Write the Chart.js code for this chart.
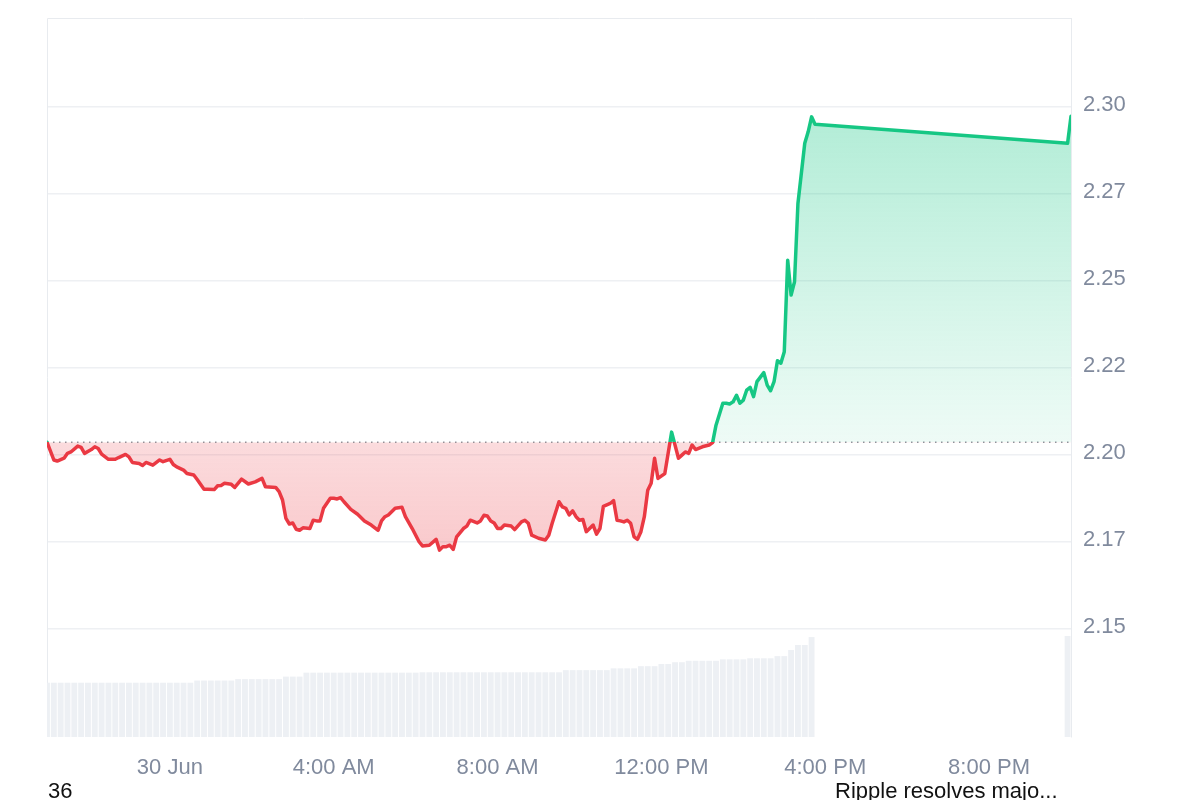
<!DOCTYPE html>
<html>
<head>
<meta charset="utf-8">
<title>XRP price chart</title>
<script src="https://cdn.jsdelivr.net/npm/chart.js@4.4.1/dist/chart.umd.min.js"></script>
<style>
    html, body {
        margin: 0;
        padding: 0;
        background: #ffffff;
        overflow: hidden;
    }
    #wrap {
        position: relative;
        width: 1200px;
        height: 800px;
    }
    #chart {
        position: absolute;
        left: 0;
        top: 0;
    }
    .below {
        position: absolute;
        top: 779px;
        font-family: "Liberation Sans", Arial, sans-serif;
        font-size: 22px;
        line-height: 24px;
        color: #111111;
        white-space: nowrap;
    }
</style>
</head>
<body>
<div id="wrap">
    <canvas id="chart" width="1200" height="800"></canvas>
    <div class="below" style="left: 48px;">36</div>
    <div class="below" style="left: 835px;">Ripple resolves majo...</div>
</div>
<script>
// price points, minutes from 30 Jun 00:00 (negative = evening of 29 Jun)
var priceMinutes = [
    -180, -170, -165, -155, -150, -145, -135, -130, -125, -115, -110, -105, -100, -90, -80, -75,
    -65, -60, -55, -45, -40, -35, -25, -15, -10, 0, 5, 10, 20, 25, 35, 40,
    50, 55, 65, 70, 75, 80, 90, 95, 105, 115, 125, 135, 140, 155, 160, 165,
    170, 175, 180, 185, 190, 195, 205, 210, 215, 220, 225, 235, 240, 245, 250, 255,
    265, 275, 285, 295, 305, 310, 315, 320, 330, 340, 345, 355, 365, 370, 380, 390,
    395, 400, 405, 410, 415, 420, 430, 435, 440, 450, 455, 460, 465, 470, 475, 480,
    485, 490, 500, 505, 515, 520, 525, 530, 540, 550, 555, 560, 570, 575, 580, 585,
    590, 595, 600, 605, 610, 620, 625, 630, 635, 645, 650, 655, 660, 665, 670, 675,
    680, 685, 690, 695, 700, 705, 710, 715, 725, 735, 745, 750, 755, 760, 765, 770,
    780, 790, 795, 800, 810, 815, 820, 825, 830, 835, 840, 845, 850, 855, 860, 870,
    875, 880, 885, 890, 895, 900, 905, 910, 915, 920, 930, 935, 940, 945, 1315, 1320
];
var prices = [
    2.2037, 2.1986, 2.1983, 2.1991, 2.2005, 2.2009, 2.2026, 2.2022, 2.2005, 2.2016, 2.2024, 2.2019, 2.2003, 2.1988, 2.1988, 2.1993,
    2.2002, 2.1995, 2.1979, 2.1976, 2.1970, 2.1979, 2.1971, 2.1986, 2.1981, 2.1988, 2.1973, 2.1966, 2.1957, 2.1947, 2.1943, 2.1930,
    2.1902, 2.1902, 2.1901, 2.1912, 2.1913, 2.1919, 2.1916, 2.1907, 2.1931, 2.1917, 2.1923, 2.1933, 2.1909, 2.1907, 2.1895, 2.1871,
    2.1818, 2.1802, 2.1805, 2.1787, 2.1784, 2.1791, 2.1789, 2.1813, 2.1811, 2.1811, 2.1847, 2.1876, 2.1876, 2.1874, 2.1878, 2.1866,
    2.1844, 2.1830, 2.1811, 2.1799, 2.1784, 2.1811, 2.1823, 2.1828, 2.1847, 2.1850, 2.1823, 2.1789, 2.1751, 2.1739, 2.1741, 2.1758,
    2.1727, 2.1737, 2.1737, 2.1741, 2.1729, 2.1765, 2.1789, 2.1796, 2.1813, 2.1805, 2.1811, 2.1827, 2.1825, 2.1811, 2.1805, 2.1789,
    2.1789, 2.1799, 2.1796, 2.1786, 2.1808, 2.1813, 2.1804, 2.1770, 2.1761, 2.1756, 2.1770, 2.1804, 2.1866, 2.1851, 2.1847, 2.1828,
    2.1840, 2.1823, 2.1813, 2.1815, 2.1780, 2.1799, 2.1773, 2.1789, 2.1853, 2.1861, 2.1869, 2.1813, 2.1811, 2.1808, 2.1813, 2.1804,
    2.1765, 2.1758, 2.1780, 2.1823, 2.1899, 2.1919, 2.1991, 2.1933, 2.1947, 2.2066, 2.1991, 2.2000, 2.2009, 2.2005, 2.2029, 2.2016,
    2.2024, 2.2029, 2.2036, 2.2086, 2.2149, 2.2149, 2.2147, 2.2153, 2.2172, 2.2149, 2.2158, 2.2187, 2.2195, 2.2168, 2.2211, 2.2237,
    2.2201, 2.2185, 2.2211, 2.2271, 2.2264, 2.2297, 2.2560, 2.2460, 2.2498, 2.2723, 2.2896, 2.2929, 2.2972, 2.2951, 2.2896, 2.2974
];
// opening price, drawn as the dotted line
var referencePrice = 2.2037;

// 24h volume bars (billions), every 10 minutes
var volumeMinutes = [
    -180, -170, -160, -150, -140, -130, -120, -110, -100, -90, -80, -70, -60, -50, -40, -30,
    -20, -10, 0, 10, 20, 30, 40, 50, 60, 70, 80, 90, 100, 110, 120, 130,
    140, 150, 160, 170, 180, 190, 200, 210, 220, 230, 240, 250, 260, 270, 280, 290,
    300, 310, 320, 330, 340, 350, 360, 370, 380, 390, 400, 410, 420, 430, 440, 450,
    460, 470, 480, 490, 500, 510, 520, 530, 540, 550, 560, 570, 580, 590, 600, 610,
    620, 630, 640, 650, 660, 670, 680, 690, 700, 710, 720, 730, 740, 750, 760, 770,
    780, 790, 800, 810, 820, 830, 840, 850, 860, 870, 880, 890, 900, 910, 920, 930,
    940, 1315
];
var volumes = [
    1.51, 1.51, 1.51, 1.51, 1.51, 1.51, 1.51, 1.51, 1.51, 1.51, 1.51, 1.51, 1.51, 1.51, 1.51, 1.51,
    1.51, 1.51, 1.51, 1.51, 1.51, 1.51, 1.57, 1.57, 1.57, 1.57, 1.57, 1.57, 1.61, 1.61, 1.61, 1.61,
    1.61, 1.61, 1.61, 1.68, 1.68, 1.68, 1.79, 1.79, 1.79, 1.79, 1.79, 1.79, 1.79, 1.79, 1.79, 1.79,
    1.79, 1.79, 1.79, 1.79, 1.79, 1.79, 1.79, 1.80, 1.80, 1.80, 1.80, 1.80, 1.80, 1.80, 1.80, 1.80,
    1.80, 1.80, 1.80, 1.80, 1.80, 1.80, 1.80, 1.80, 1.80, 1.80, 1.80, 1.80, 1.86, 1.86, 1.86, 1.86,
    1.86, 1.86, 1.86, 1.91, 1.91, 1.91, 1.91, 1.97, 1.97, 1.97, 2.03, 2.03, 2.08, 2.08, 2.12, 2.12,
    2.12, 2.12, 2.12, 2.16, 2.16, 2.16, 2.16, 2.19, 2.19, 2.19, 2.19, 2.25, 2.25, 2.42, 2.56, 2.56,
    2.78, 2.81
];

var xTickMinutes = [0, 240, 480, 720, 960, 1200];
var xTickLabels = ['30 Jun', '4:00 AM', '8:00 AM', '12:00 PM', '4:00 PM', '8:00 PM'];
var yTickValues = [2.15, 2.175, 2.2, 2.225, 2.25, 2.275, 2.3];
var yTickLabels = ['2.15', '2.17', '2.20', '2.22', '2.25', '2.27', '2.30'];

var GREEN = '#16c784';
var RED = '#ea3943';
var TICK_COLOR = '#808a9d';
var GRID_COLOR = '#eef0f3';

$ready(function() {
    createChart();
});

function $ready(fn) {
    if (document.readyState !== 'loading') {
        fn();
    } else {
        document.addEventListener('DOMContentLoaded', fn);
    }
}

function toPoints(xs, ys) {
    return ys.map(function (v, i) {
        return { x: xs[i], y: v };
    });
}

function lineColor(context) {
    var chart = context.chart;
    var area = chart.chartArea;
    if (!area) {
        return GREEN;
    }
    var basePx = chart.scales.y.getPixelForValue(referencePrice);
    var stop = (basePx - area.top) / (area.bottom - area.top);
    var g = chart.ctx.createLinearGradient(0, area.top, 0, area.bottom);
    g.addColorStop(0, GREEN);
    g.addColorStop(stop, GREEN);
    g.addColorStop(stop, RED);
    g.addColorStop(1, RED);
    return g;
}

function aboveFill(context) {
    var chart = context.chart;
    if (!chart.chartArea) {
        return 'rgba(22, 199, 132, 0.2)';
    }
    var y = chart.scales.y;
    var g = chart.ctx.createLinearGradient(0, y.getPixelForValue(Math.max.apply(null, prices)), 0, y.getPixelForValue(referencePrice));
    g.addColorStop(0, 'rgba(22, 199, 132, 0.33)');
    g.addColorStop(1, 'rgba(22, 199, 132, 0.07)');
    return g;
}

function belowFill(context) {
    var chart = context.chart;
    if (!chart.chartArea) {
        return 'rgba(234, 57, 67, 0.2)';
    }
    var y = chart.scales.y;
    var g = chart.ctx.createLinearGradient(0, y.getPixelForValue(referencePrice), 0, y.getPixelForValue(Math.min.apply(null, prices)));
    g.addColorStop(0, 'rgba(234, 57, 67, 0.18)');
    g.addColorStop(1, 'rgba(234, 57, 67, 0.27)');
    return g;
}

// thin frame on the left and top of the plot
var framePlugin = {
    id: 'frame',
    beforeDatasetsDraw: function (chart) {
        var a = chart.chartArea;
        var ctx = chart.ctx;
        ctx.save();
        ctx.strokeStyle = '#e8ebef';
        ctx.lineWidth = 1;
        ctx.beginPath();
        ctx.moveTo(a.left + 0.5, a.bottom);
        ctx.lineTo(a.left + 0.5, a.top + 0.5);
        ctx.lineTo(a.right, a.top + 0.5);
        ctx.stroke();
        ctx.restore();
    }
};

function createChart() {
    var ctx = document.getElementById('chart').getContext('2d');

    var chart = new Chart(ctx, {
        type: 'line',
        data: {
            datasets: [
                {
                    label: 'Price',
                    data: toPoints(priceMinutes, prices),
                    borderColor: lineColor,
                    borderWidth: 3.5,
                    borderJoinStyle: 'round',
                    borderCapStyle: 'round',
                    pointRadius: 0,
                    tension: 0,
                    fill: {
                        target: { value: referencePrice },
                        above: aboveFill,
                        below: belowFill
                    },
                    yAxisID: 'y',
                    order: 0
                },
                {
                    label: 'Open',
                    data: [{ x: -180, y: referencePrice }, { x: 1320, y: referencePrice }],
                    borderColor: '#8f959e',
                    borderWidth: 1.5,
                    borderDash: [1.5, 4.5],
                    pointRadius: 0,
                    fill: false,
                    yAxisID: 'y',
                    order: 1
                },
                {
                    type: 'bar',
                    label: 'Volume',
                    data: toPoints(volumeMinutes, volumes),
                    backgroundColor: '#edf0f4',
                    barPercentage: 0.86,
                    categoryPercentage: 1,
                    yAxisID: 'yv',
                    order: 2
                }
            ]
        },
        options: {
            responsive: false,
            devicePixelRatio: 1,
            animation: false,
            events: [],
            layout: {
                padding: { left: 47, top: 18, right: 0, bottom: 0 }
            },
            plugins: {
                legend: { display: false },
                tooltip: { enabled: false }
            },
            scales: {
                x: {
                    type: 'linear',
                    min: -180,
                    max: 1320,
                    offset: false,
                    grid: { display: false, drawTicks: false },
                    border: { display: false },
                    afterBuildTicks: function (scale) {
                        scale.ticks = xTickMinutes.map(function (v) { return { value: v }; });
                    },
                    afterFit: function (scale) {
                        scale.height = 63;
                        scale.paddingLeft = 0;
                        scale.paddingRight = 0;
                    },
                    ticks: {
                        padding: 18,
                        maxRotation: 0,
                        autoSkip: false,
                        color: TICK_COLOR,
                        font: { family: '"Liberation Sans", Arial, sans-serif', size: 22 },
                        callback: function (value, index) {
                            return xTickLabels[index];
                        }
                    }
                },
                y: {
                    type: 'linear',
                    position: 'right',
                    min: 2.119,
                    max: 2.3256,
                    grid: { color: GRID_COLOR, lineWidth: 1.5, drawTicks: false },
                    border: { display: true, color: '#e8ebef', width: 1 },
                    afterBuildTicks: function (scale) {
                        scale.ticks = yTickValues.map(function (v) { return { value: v }; });
                    },
                    afterFit: function (scale) {
                        scale.width = 129;
                        scale.paddingTop = 0;
                        scale.paddingBottom = 0;
                    },
                    ticks: {
                        padding: 12,
                        labelOffset: -2,
                        color: TICK_COLOR,
                        font: { family: '"Liberation Sans", Arial, sans-serif', size: 22 },
                        callback: function (value, index) {
                            return yTickLabels[index];
                        }
                    }
                },
                yv: {
                    type: 'linear',
                    display: false,
                    min: 0,
                    max: 20
                }
            }
        },
        plugins: [framePlugin]
    });
}
</script>
</body>
</html>
